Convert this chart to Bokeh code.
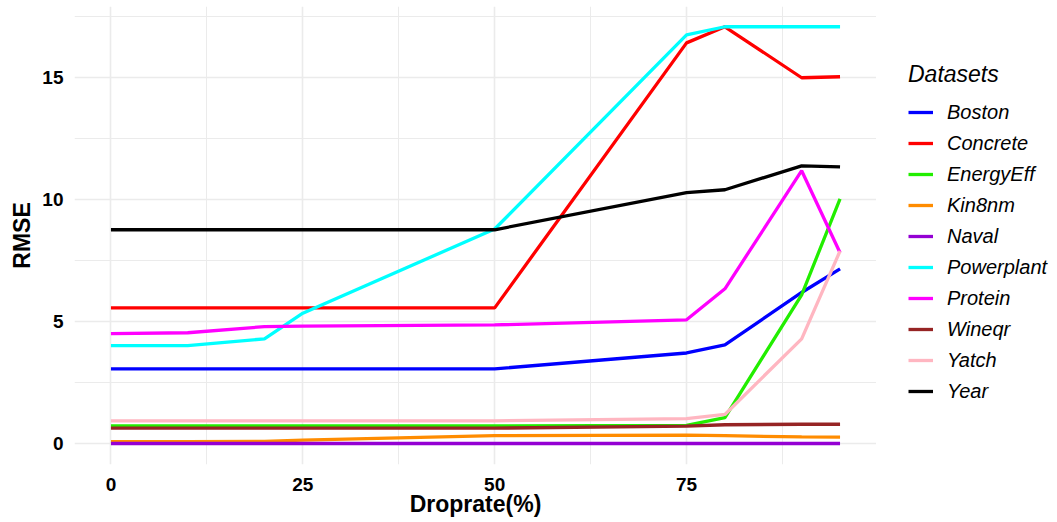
from bokeh.plotting import figure
from bokeh.layouts import row
from bokeh.models import Range1d, FixedTicker, Legend, LegendItem
from bokeh.embed import file_html
from bokeh.resources import INLINE

droprate = [0, 10, 20, 25, 50, 75, 80, 90, 95]

boston = [3.07, 3.07, 3.07, 3.07, 3.07, 3.72, 4.05, 6.2, 7.17]
concrete = [5.57, 5.57, 5.57, 5.57, 5.57, 16.43, 17.09, 15.0, 15.04]
energyeff = [0.73, 0.73, 0.73, 0.73, 0.73, 0.75, 1.07, 6.1, 10.04]
kin8nm = [0.09, 0.09, 0.1, 0.15, 0.33, 0.35, 0.33, 0.28, 0.27]
naval = [0.01, 0.01, 0.01, 0.01, 0.01, 0.01, 0.01, 0.01, 0.01]
powerplant = [4.02, 4.02, 4.3, 5.35, 8.8, 16.76, 17.09, 17.09, 17.09]
protein = [4.51, 4.55, 4.8, 4.82, 4.87, 5.08, 6.35, 11.19, 7.83]
wineqr = [0.64, 0.64, 0.64, 0.64, 0.64, 0.72, 0.78, 0.8, 0.8]
yatch = [0.94, 0.94, 0.94, 0.94, 0.94, 1.03, 1.2, 4.3, 7.9]
year = [8.77, 8.77, 8.77, 8.77, 8.77, 10.29, 10.41, 11.39, 11.35]

names = ["Boston", "Concrete", "EnergyEff", "Kin8nm", "Naval",
         "Powerplant", "Protein", "Wineqr", "Yatch", "Year"]
series = [boston, concrete, energyeff, kin8nm, naval,
          powerplant, protein, wineqr, yatch, year]
colors = ["#0000FF", "#FF0000", "#22EE00", "#FF8C00", "#9400D3",
          "#00FFFF", "#FF00FF", "#962424", "#FFB6C1", "#000000"]

x_ticks = [0, 25, 50, 75]
y_ticks = [0, 5, 10, 15]

FONT = "Liberation Sans"

p = figure(width=876, height=522, output_backend="svg", toolbar_location=None,
           x_range=Range1d(-4.75, 99.75), y_range=Range1d(-0.85, 17.92),
           min_border_left=74, min_border_right=0, min_border_top=6,
           min_border_bottom=58)
p.outline_line_color = None
p.background_fill_color = "white"
p.border_fill_color = "white"

for name, ys, c in zip(names, series, colors):
    p.line(droprate, ys, line_color=c, line_width=3.3)

for ax in (p.xaxis, p.yaxis):
    ax.axis_line_color = None
    ax.major_tick_line_color = None
    ax.minor_tick_line_color = None
    ax.major_label_text_font = FONT
    ax.major_label_text_font_style = "bold"
    ax.major_label_text_font_size = "19px"
    ax.major_label_text_color = "black"
    ax.axis_label_text_font = FONT
    ax.axis_label_text_font_style = "bold"
    ax.axis_label_text_font_size = "23px"
    ax.axis_label_text_color = "black"

p.xaxis.ticker = FixedTicker(ticks=x_ticks, minor_ticks=[12.5, 37.5, 62.5, 87.5])
p.yaxis.ticker = FixedTicker(ticks=y_ticks, minor_ticks=[2.5, 7.5, 12.5, 17.5])
p.xaxis.axis_label = "Droprate(%)"
p.yaxis.axis_label = "RMSE"
p.xaxis.major_label_standoff = 7
p.yaxis.major_label_standoff = 5
p.xaxis.axis_label_standoff = -3
p.yaxis.axis_label_standoff = 4

for g in (p.xgrid, p.ygrid):
    g.grid_line_color = "#EBEBEB"
    g.grid_line_width = 1.6
    g.minor_grid_line_color = "#EBEBEB"
    g.minor_grid_line_width = 1.0

# legend panel (the series are drawn here too, but outside its visible range)
p2 = figure(width=181, height=522, output_backend="svg", toolbar_location=None,
            x_range=Range1d(-1000, -999), y_range=Range1d(-1000, -999),
            x_axis_type=None, y_axis_type=None, min_border=0)
p2.outline_line_color = None
p2.grid.visible = False
p2.border_fill_color = "white"
p2.background_fill_color = "white"

items = []
for name, ys, c in zip(names, series, colors):
    r = p2.line(droprate, ys, line_color=c, line_width=3.3)
    items.append(LegendItem(label=name, renderers=[r]))

legend = Legend(items=items, title="Datasets", location=(32, 59))
legend.title_text_font = FONT
legend.title_text_font_style = "italic"
legend.title_text_font_size = "23px"
legend.title_text_color = "black"
legend.title_standoff = 10
legend.label_text_font = FONT
legend.label_text_font_style = "italic"
legend.label_text_font_size = "20px"
legend.label_text_color = "black"
legend.glyph_width = 25
legend.glyph_height = 28
legend.label_height = 28
legend.label_standoff = 14
legend.spacing = 3
legend.padding = 0
legend.margin = 0
legend.border_line_color = None
legend.background_fill_alpha = 0
p2.add_layout(legend, "center")

layout = row(p, p2, spacing=0)
open("out.html", "w").write(file_html(layout, INLINE))
